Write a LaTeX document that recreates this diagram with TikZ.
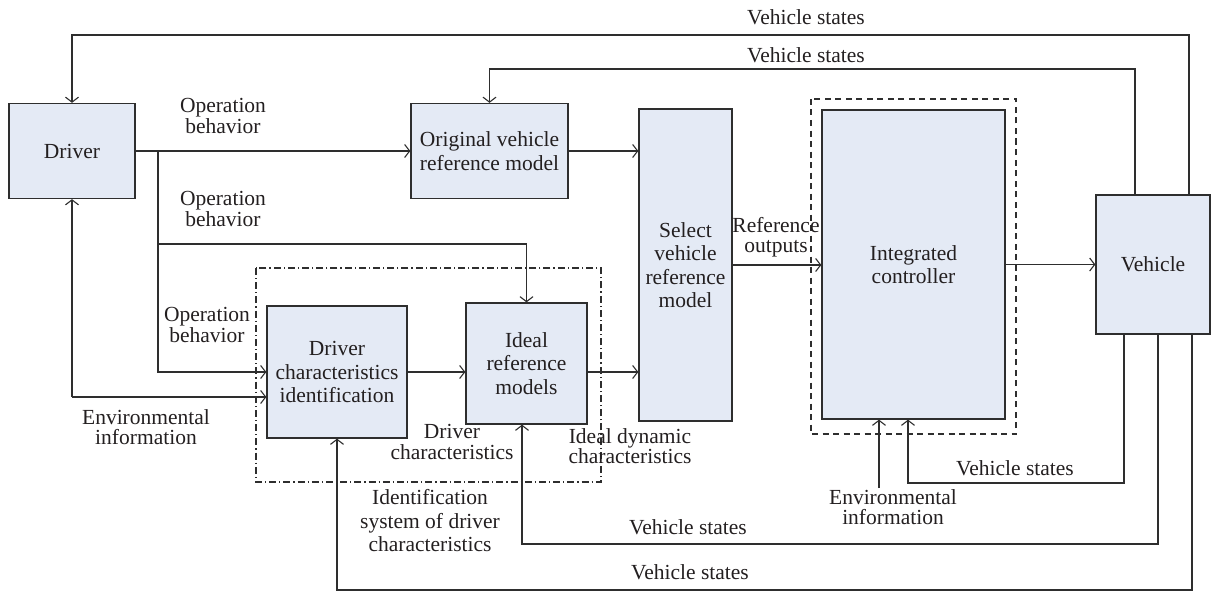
\documentclass[tikz,border=0pt]{standalone}
\usepackage{fontspec}
\setmainfont{Liberation Serif}
\usetikzlibrary{arrows.meta,calc}
\definecolor{boxfill}{HTML}{E4EAF5}
\definecolor{linec}{HTML}{2E2E2E}
\definecolor{txt}{HTML}{231F20}
\begin{document}
\begin{tikzpicture}[x=1pt,y=-1pt,
  blk/.style={draw=linec,line width=1.3pt,fill=boxfill,inner sep=0pt,align=center,text=txt,
    font=\fontsize{21.5}{23.5}\selectfont},
  lbl/.style={inner sep=0pt,align=center,text=txt,font=\fontsize{21.5}{20.5}\selectfont},
  con/.style={draw=linec,line width=1.1pt},
  arr/.style={con,-{Straight Barb[length=5pt,width=13pt,line width=1.1pt]}},
  dashbox/.style={draw=linec,line width=1.1pt,dash pattern=on 6pt off 4.5pt},
  dotbox/.style={draw=linec,line width=1.1pt,dash pattern=on 7pt off 3pt on 1.2pt off 3pt}]
\useasboundingbox (0,0) rectangle (1217,591);
% group frames
\draw[dashbox] (811,99) rectangle (1016,434);
\draw[dotbox] (256,268) rectangle (601,482);
% blocks
\node[blk,minimum width=126pt,minimum height=95pt] (drv) at (72,151) {Driver};
\node[blk,minimum width=157pt,minimum height=95pt] (orig) at (489.5,151) {Original vehicle\\reference model};
\node[blk,minimum width=93pt,minimum height=312pt] (sel) at (685.5,265) {Select\\vehicle\\reference\\model};
\node[blk,minimum width=183pt,minimum height=309pt] (ctrl) at (913.5,264.5) {Integrated\\controller};
\node[blk,minimum width=114pt,minimum height=139pt] (veh) at (1153,264.5) {Vehicle};
\node[blk,minimum width=140pt,minimum height=132pt] (ident) at (337,372) {Driver\\characteristics\\identification};
\node[blk,minimum width=121pt,minimum height=121pt] (ideal) at (526.5,363.5) {Ideal\\reference\\models};
% coordinates
\coordinate (c1) at (1189,35);
\coordinate (c2) at (1135,69);
\coordinate (j1) at (158,151);
\coordinate (c3) at (158,244);
\coordinate (c4) at (72,397);
\coordinate (c5) at (1124,483);
\coordinate (c6) at (908,483);
\coordinate (c7) at (879,488);
\coordinate (c8) at (1158,544);
\coordinate (c9) at (522,544);
\coordinate (c10) at (1192,590);
% connectors
\draw[arr] (veh.north -| c1) -- (c1) -| (drv.north);
\draw[arr] (veh.north -| c2) -- (c2) -| (orig.north);
\draw[arr] (drv.east) -- (orig.west);
\draw[arr] (orig.east) -- (orig.east -| sel.west);
\draw[con] (j1) -- (c3);
\draw[arr] (c3) -| (ideal.north);
\draw[arr] (c3) |- (ident.west);
\draw[arr] (c4) -- (drv.south);
\draw[arr] (c4) -- (c4 -| ident.west);
\draw[arr] (ident.east) -- (ident.east -| ideal.west);
\draw[arr] (ident.east -| ideal.east) -- (ident.east -| sel.west);
\draw[arr] (sel.east) -- (sel.east -| ctrl.west);
\draw[arr] (ctrl.east) -- (ctrl.east -| veh.west);
\draw[arr] (veh.south -| c5) -- (c5) -- (c6) -- (c6 |- ctrl.south);
\draw[arr] (c7) -- (c7 |- ctrl.south);
\draw[arr] (veh.south -| c8) -- (c8) -- (c9) -- (c9 |- ideal.south);
\draw[arr] (veh.south -| c10) -- (c10) -| (ident.south);
% labels
\node[lbl] (l1) at (806,17) {Vehicle states};
\node[lbl] (l2) at (806,55) {Vehicle states};
\node[lbl] (l3) at (223,116) {Operation\\behavior};
\node[lbl] (l4) at (223,209) {Operation\\behavior};
\node[lbl] (l5) at (207,325) {Operation\\behavior};
\node[lbl] (l6) at (146,427) {Environmental\\information};
\node[lbl] (l7) at (776,237) {Reference\\outputs};
\node[lbl] (l8) at (452,442) {Driver\\characteristics};
\node[lbl] (l9) at (630,446) {Ideal dynamic\\characteristics};
\node[lbl,font=\fontsize{21.5}{23.5}\selectfont] (l10) at (430,521) {Identification\\system of driver\\characteristics};
\node[lbl] (l11) at (1015,468) {Vehicle states};
\node[lbl] (l12) at (893,507) {Environmental\\information};
\node[lbl] (l13) at (688,527) {Vehicle states};
\node[lbl] (l14) at (690,572) {Vehicle states};
\end{tikzpicture}
\end{document}
